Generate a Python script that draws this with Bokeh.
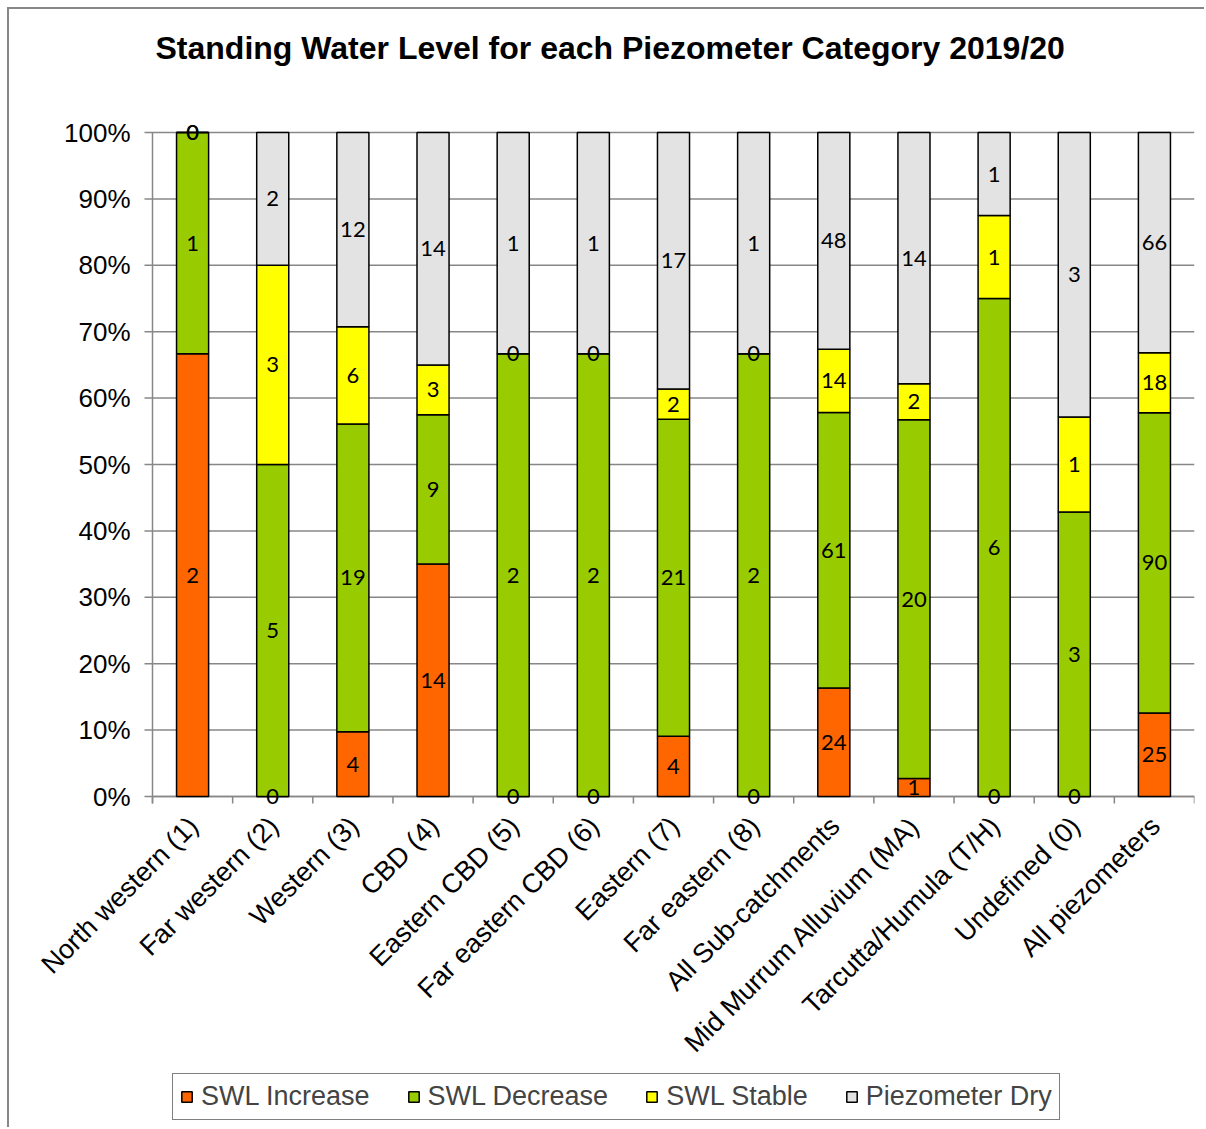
from math import pi
from bokeh.plotting import figure
from bokeh.models import ColumnDataSource, Range1d, Legend, LegendItem
from bokeh.core.properties import value
from bokeh.embed import file_html
from bokeh.resources import INLINE

categories = ["North western (1)", "Far western (2)", "Western (3)", "CBD (4)", "Eastern CBD (5)",
              "Far eastern CBD (6)", "Eastern (7)", "Far eastern (8)", "All Sub-catchments",
              "Mid Murrum Alluvium (MA)", "Tarcutta/Humula (T/H)", "Undefined (0)", "All piezometers"]
swl_increase = [2, 0, 4, 14, 0, 0, 4, 0, 24, 1, 0, 0, 25]
swl_decrease = [1, 5, 19, 9, 2, 2, 21, 2, 61, 20, 6, 3, 90]
swl_stable = [0, 3, 6, 3, 0, 0, 2, 0, 14, 2, 1, 1, 18]
piezometer_dry = [0, 2, 12, 14, 1, 1, 17, 1, 48, 14, 1, 3, 66]
series_names = ["SWL Increase", "SWL Decrease", "SWL Stable", "Piezometer Dry"]
series_colors = ["#FF6600", "#99CC00", "#FFFF00", "#E3E3E3"]
y_ticks = [0.0, 0.1, 0.2, 0.3, 0.4, 0.5, 0.6, 0.7, 0.8, 0.9, 1.0]
y_tick_labels = ["0%", "10%", "20%", "30%", "40%", "50%", "60%", "70%", "80%", "90%", "100%"]
title_text = "Standing Water Level for each Piezometer Category 2019/20"

series = [swl_increase, swl_decrease, swl_stable, piezometer_dry]
totals = [sum(v) for v in zip(*series)]
n = len(categories)
xpos = [i + 0.5 for i in range(n)]

GRAY = "#878787"
ARIAL = "Liberation Sans"

# layout (pixels inside the figure)
W, H = 1197, 1120
RIGHT = 12
X0_PX = 143                      # pixel column of the value axis
Y0_PX, Y1_PX = 787, 123          # pixel rows of 0% and 100% from figure top
PY = Y0_PX - Y1_PX               # pixels per value unit
PXC = (W - RIGHT - X0_PX) / n    # pixels per category
x_start = -X0_PX / PXC
y_start = -(H - Y0_PX) / PY
y_end = 1 + Y1_PX / PY
tick_len_y = 7 / PY
tick_len_x = 8 / PXC

p = figure(width=W, height=H, output_backend="svg", toolbar_location=None,
           x_range=Range1d(x_start, n), y_range=Range1d(y_start, y_end),
           x_axis_location=None, y_axis_location=None,
           min_border_left=0, min_border_right=RIGHT, min_border_top=0, min_border_bottom=0,
           styles={"border-top": "2px solid #878787", "border-left": "2px solid #878787",
                   "margin-left": "7px", "margin-top": "7px"})
p.title.text = ""
p.outline_line_color = None
p.grid.visible = False

# value gridlines (with their outer tick marks)
p.segment(x0=[-tick_len_x] * len(y_ticks), x1=[n] * len(y_ticks), y0=y_ticks, y1=y_ticks,
          line_color=GRAY, line_width=1.5)
# value axis line
p.segment(x0=[0], x1=[0], y0=[-tick_len_y], y1=[1], line_color=GRAY, line_width=1.5)
# value tick labels
p.text(x=[0] * len(y_ticks), y=y_ticks, text=y_tick_labels, text_align="right",
       text_baseline="middle", x_offset=-22, text_font=value(ARIAL), text_font_size="26px",
       text_color="black")

# category axis line and boundary ticks
bounds_x = list(range(n + 1))
p.segment(x0=[0], x1=[n], y0=[0], y1=[0], line_color=GRAY, line_width=1.5)
p.segment(x0=bounds_x, x1=bounds_x, y0=[0] * (n + 1), y1=[-tick_len_y] * (n + 1),
          line_color=GRAY, line_width=1.5)

renderers = []
cum = [0.0] * n
for name, vals, col in zip(series_names, series, series_colors):
    frac = [v / t for v, t in zip(vals, totals)]
    bottom = cum[:]
    top = [b + f for b, f in zip(bottom, frac)]
    src = ColumnDataSource(dict(x=xpos, bottom=bottom, top=top))
    r = p.vbar(x="x", bottom="bottom", top="top", width=0.4, source=src,
               fill_color=col, line_color="black", line_width=1.5)
    renderers.append((name, r))
    cum = top

# data labels
cum = [0.0] * n
for vals in series:
    frac = [v / t for v, t in zip(vals, totals)]
    mid = [c + f / 2 for c, f in zip(cum, frac)]
    cum = [c + f for c, f in zip(cum, frac)]
    src = ColumnDataSource(dict(x=xpos, mid=mid, lab=[str(v) for v in vals]))
    p.text(x="x", y="mid", text="lab", source=src, text_align="center", text_baseline="middle",
           text_font=value("Lato"), text_font_size="22px", text_color="black")

# category labels, rotated 45 degrees
cat_src = ColumnDataSource(dict(x=xpos, y=[0] * n, lab=categories))
p.text(x="x", y="y", text="lab", source=cat_src, angle=pi / 4, text_align="right",
       text_baseline="middle", y_offset=25, x_offset=1,
       text_font=value(ARIAL), text_font_size="27px", text_color="black")

# title
p.text(x=[0], y=[1], text=[title_text], text_align="left", text_baseline="middle",
       x_offset=3, y_offset=-(Y1_PX - 38), text_font=value(ARIAL), text_font_size="32px",
       text_font_style="bold", text_color="black")

legend = Legend(items=[LegendItem(label=nm, renderers=[r]) for nm, r in renderers],
                orientation="horizontal", location=(163, 9),
                border_line_color="black", border_line_width=1.5,
                label_text_font=ARIAL, label_text_font_size="27px",
                glyph_width=13, glyph_height=13, label_standoff=8, spacing=37,
                padding=7, margin=0)
p.add_layout(legend, "center")

open("out.html", "w").write(file_html(p, INLINE))
